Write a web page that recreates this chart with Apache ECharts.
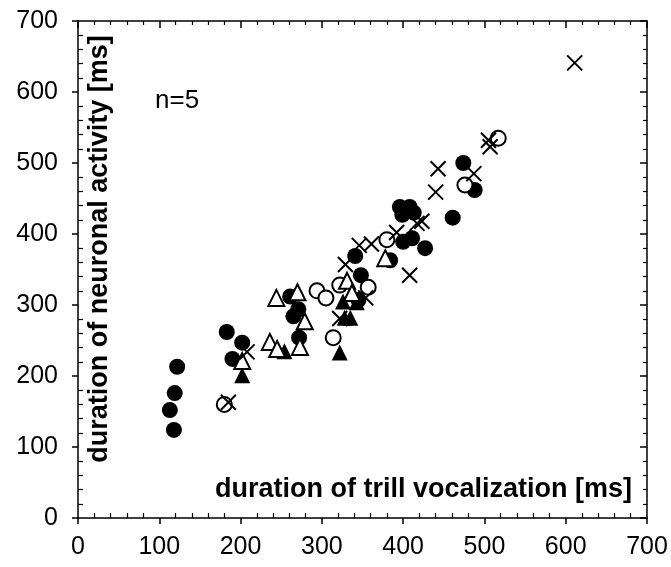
<!DOCTYPE html>
<html><head><meta charset="utf-8">
<script src="https://cdn.jsdelivr.net/npm/echarts@6/dist/echarts.min.js"></script>
<style>html,body{margin:0;padding:0;background:#fff}#c{width:671px;height:567px}</style>
</head><body><div id="c"></div>
<script>
var xTicks = [0,100,200,300,400,500,600,700];
var yTicks = [0,100,200,300,400,500,600,700];
var filledCircles = [[122,213],[119,176],[113,152],[118,124],[183,262],[202,247],[190,224],[261,312],[271,294],[265,284],[272,254],[341,369],[348,342],[345,307],[384,363],[396,438],[408,438],[413,430],[399,427],[400,389],[411,394],[427,380],[461,423],[474,500],[488,462]];
var openCircles = [[180,160],[294,320],[305,310],[322,328],[314,254],[357,325],[380,392],[476,469],[517,535]];
var filledTriangles = [[202,201],[254,235],[322,233],[326,305],[343,304],[328,282],[335,282]];
var openTriangles = [[202,221],[236,248],[245,238],[273,241],[244,310],[270,318],[279,277],[331,334],[337,317],[378,366]];
var crosses = [[185,163],[208,234],[322,281],[329,357],[346,384],[361,386],[354,310],[392,402],[408,342],[417,415],[423,418],[440,459],[443,492],[487,485],[505,532],[507,523],[611,641]];

var chart = echarts.init(document.getElementById('c'), null, {renderer:'canvas'});
var font = 'Liberation Sans, Arial, sans-serif';
var lineStyle = {color:'#000', width:1.5};
function baseAxis(pos, showLabel, tickInside, extra){
  var a = {
    type:'value', min:0, max:700, interval:100, position:pos,
    axisLine:{show:true, onZero:false, lineStyle:lineStyle},
    axisTick:{show:true, inside:tickInside, length:tickInside?7:6, lineStyle:lineStyle},
    minorTick:{show:true, splitNumber:5, length:tickInside?4:-5, lineStyle:{color:'#000', width:1.2}},
    splitLine:{show:false},
    axisLabel:{show:showLabel, color:'#000', fontSize:25, fontFamily:font},
  };
  for (var k in extra) a[k]=extra[k];
  return a;
}
var option = {
  animation:false,
  backgroundColor:'#fff',
  grid:{left:78, right:24, top:21, bottom:49, containLabel:false},
  xAxis:[
    baseAxis('bottom', true, false, {axisLabel:{show:true,color:'#000',fontSize:25,fontFamily:font,margin:17,
      customValues:xTicks}}),
    baseAxis('top', false, true, {})
  ],
  yAxis:[
    baseAxis('left', true, false, {axisLabel:{show:true,color:'#000',fontSize:25,fontFamily:font,margin:20,
      customValues:yTicks}}),
    baseAxis('right', false, true, {})
  ],
  series:[
    {type:'scatter', data:filledCircles, symbol:'circle', symbolSize:16, itemStyle:{color:'#000', opacity:1}},
    {type:'scatter', data:openCircles, symbol:'circle', symbolSize:15, itemStyle:{color:'#fff', borderColor:'#000', borderWidth:2, opacity:1}},
    {type:'scatter', data:filledTriangles, symbol:'triangle', symbolSize:16, itemStyle:{color:'#000', opacity:1}},
    {type:'scatter', data:openTriangles, symbol:'triangle', symbolSize:16, itemStyle:{color:'#fff', borderColor:'#000', borderWidth:2, opacity:1}},
    {type:'scatter', data:crosses, symbol:'path://M0,0L10,10M10,0L0,10', symbolSize:15, itemStyle:{color:'none', borderColor:'#000', borderWidth:2, opacity:1}}
  ],
  graphic:[
    {type:'text', left:155, top:88, style:{text:'n=5', fontSize:26, fontFamily:font, fill:'#000'}},
    {type:'text', right:39, top:476, style:{text:'duration of trill vocalization [ms]', fontSize:27, fontWeight:'bold', fontFamily:font, fill:'#000'}},
    {type:'text', x:100, y:249, rotation:Math.PI/2, style:{text:'duration of neuronal activity [ms]', fontSize:27, fontWeight:'bold', fontFamily:font, fill:'#000', align:'center', verticalAlign:'middle'}}
  ]
};
chart.setOption(option);
</script></body></html>
